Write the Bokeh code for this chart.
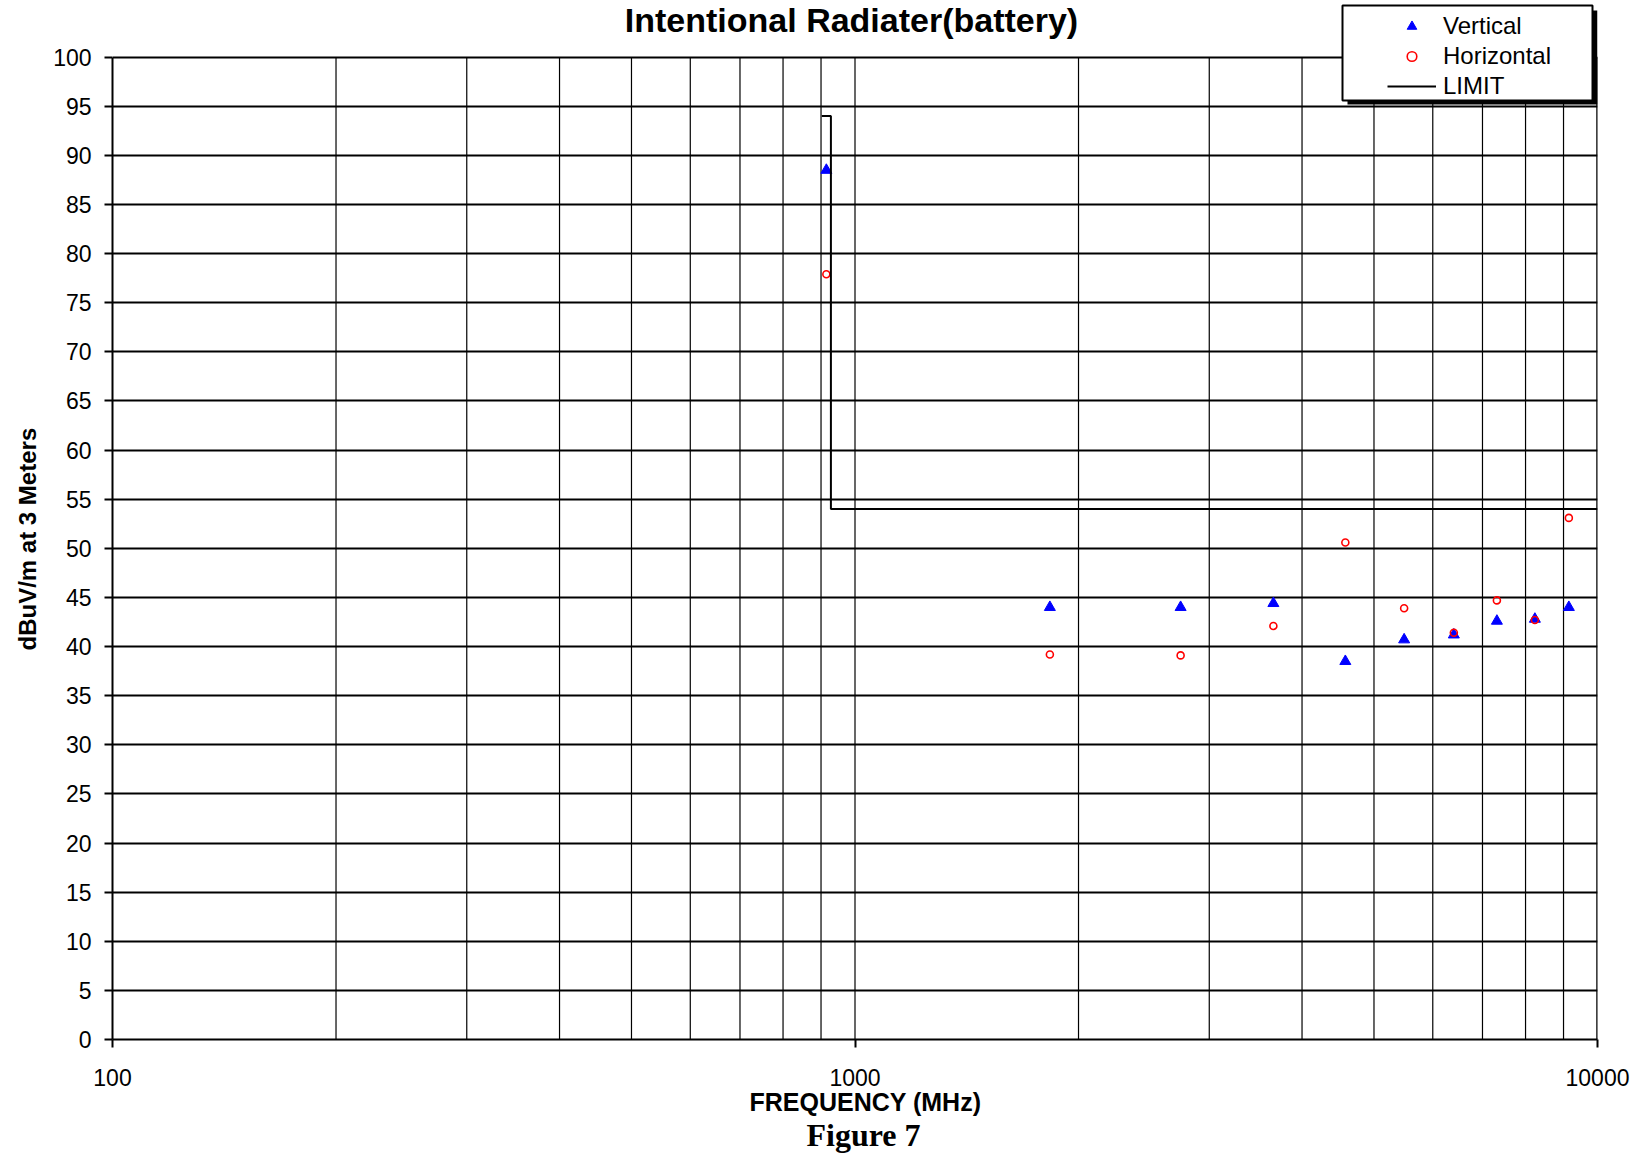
from bokeh.plotting import figure
from bokeh.models import FixedTicker, Label, Legend, LegendItem, BoxAnnotation, Range1d, Title
from bokeh.embed import file_html
from bokeh.resources import INLINE

# ---- texts ----
chart_title = "Intentional Radiater(battery)"
caption = "Figure 7"
x_label = "FREQUENCY (MHz)"
y_label = "dBuV/m at 3 Meters"

# ---- data ----
freq_mhz = [915, 1830, 2745, 3660, 4575, 5490, 6405, 7320, 8235, 9150]
vertical_dbuv = [88.5, 44.0, 44.0, 44.4, 38.5, 40.7, 41.2, 42.6, 42.8, 44.0]
horizontal_dbuv = [77.9, 39.2, 39.1, 42.1, 50.6, 43.9, 41.4, 44.7, 42.7, 53.1]

limit_freq = [902, 928, 928, 10000]
limit_dbuv = [94, 94, 54, 54]

# ---- ticks ----
x_major_ticks = [100, 1000, 10000]
x_tick_labels = ["100", "1000", "10000"]
x_minor_ticks = [200, 300, 400, 500, 600, 700, 800, 900,
                 2000, 3000, 4000, 5000, 6000, 7000, 8000, 9000]
y_ticks = [0, 5, 10, 15, 20, 25, 30, 35, 40, 45, 50,
           55, 60, 65, 70, 75, 80, 85, 90, 95, 100]

SANS = "Liberation Sans"
SERIF = "Liberation Serif"

W, H = 1646, 1159
p = figure(width=W, height=H, x_axis_type="log",
           x_range=Range1d(x_major_ticks[0], x_major_ticks[-1]),
           y_range=Range1d(y_ticks[0], 105.77),
           output_backend="svg", toolbar_location=None, title=None,
           min_border_left=112, min_border_right=49,
           min_border_top=0, min_border_bottom=120)
p.background_fill_color = "white"
p.border_fill_color = "white"
p.outline_line_color = None

# axes
p.xaxis.ticker = FixedTicker(ticks=x_major_ticks, minor_ticks=x_minor_ticks)
p.xaxis.major_label_overrides = dict(zip(x_major_ticks, x_tick_labels))
p.yaxis.ticker = FixedTicker(ticks=y_ticks)
p.yaxis.bounds = (y_ticks[0], y_ticks[-1])
for ax in (p.xaxis[0], p.yaxis[0]):
    ax.axis_line_color = "black"
    ax.axis_line_width = 2
    ax.major_tick_line_color = "black"
    ax.major_tick_line_width = 2
    ax.major_tick_out = 8
    ax.major_tick_in = 0
    ax.minor_tick_line_color = None
    ax.major_label_text_font = SANS
    ax.major_label_text_font_size = "23px"
    ax.major_label_text_color = "black"
p.xaxis.major_label_standoff = 21
p.yaxis.major_label_standoff = 13

# axis titles (as side titles so they can sit where the reference has them)
p.add_layout(Title(text=y_label, align="left", offset=389, standoff=20,
                   text_font=SANS, text_font_size="24px",
                   text_font_style="bold", text_color="black"), "left")
p.add_layout(Title(text=x_label, align="left", offset=637, standoff=-6,
                   text_font=SANS, text_font_size="25px",
                   text_font_style="bold", text_color="black"), "below")
p.add_layout(Title(text=caption, align="left", offset=694, standoff=4,
                   text_font=SERIF, text_font_size="32px",
                   text_font_style="bold", text_color="black"), "below")

# grids: horizontal from the axis grid, vertical bounded to 0..100
p.ygrid.grid_line_color = "black"
p.ygrid.grid_line_width = 2
p.xgrid.grid_line_color = None

grid_x = x_minor_ticks + x_major_ticks[1:2]
p.segment(x0=grid_x, y0=[y_ticks[0]] * len(grid_x),
          x1=grid_x, y1=[y_ticks[-1]] * len(grid_x),
          line_color="black", line_width=1.2)
p.segment(x0=x_major_ticks[-1:], y0=[y_ticks[0]], x1=x_major_ticks[-1:],
          y1=[y_ticks[-1]], line_color="black", line_width=2.5)

# series
vr = p.scatter(freq_mhz, vertical_dbuv, marker="triangle", size=11,
               fill_color="#0000FF", line_color="#0000FF")
hr = p.scatter(freq_mhz, horizontal_dbuv, marker="circle", size=7,
               fill_color=None, line_color="#FF0000", line_width=1.6)
lim = p.line(limit_freq, limit_dbuv, line_color="black", line_width=2)

# legend box with shadow (screen units from frame bottom-left)
shadow = BoxAnnotation(left=1235, right=1485, top=1029, bottom=935,
                       left_units="screen", right_units="screen",
                       top_units="screen", bottom_units="screen",
                       fill_color="black", fill_alpha=1.0, line_color=None)
box = BoxAnnotation(left=1230, right=1480, top=1034, bottom=939,
                    left_units="screen", right_units="screen",
                    top_units="screen", bottom_units="screen",
                    fill_color="white", fill_alpha=1.0,
                    line_color="black", line_alpha=1.0, line_width=2)
p.add_layout(shadow)
p.add_layout(box)

legend = Legend(items=[LegendItem(label="Vertical", renderers=[vr]),
                       LegendItem(label="Horizontal", renderers=[hr]),
                       LegendItem(label="LIMIT", renderers=[lim])],
                location=(1275, 938), orientation="vertical",
                margin=0, padding=0, spacing=0,
                glyph_width=49, glyph_height=24, label_height=30,
                label_standoff=7,
                label_text_font=SANS, label_text_font_size="24px",
                label_text_color="black",
                background_fill_alpha=0, border_line_color=None)
p.add_layout(legend)

# chart title (inside the frame area, above the 100 line)
p.add_layout(Label(x=739, y=1020, x_units="screen", y_units="screen",
                   text=chart_title, text_font=SANS,
                   text_font_size="34px", text_font_style="bold",
                   text_color="black", text_align="center",
                   text_baseline="alphabetic"))

open("out.html", "w").write(file_html(p, INLINE))
